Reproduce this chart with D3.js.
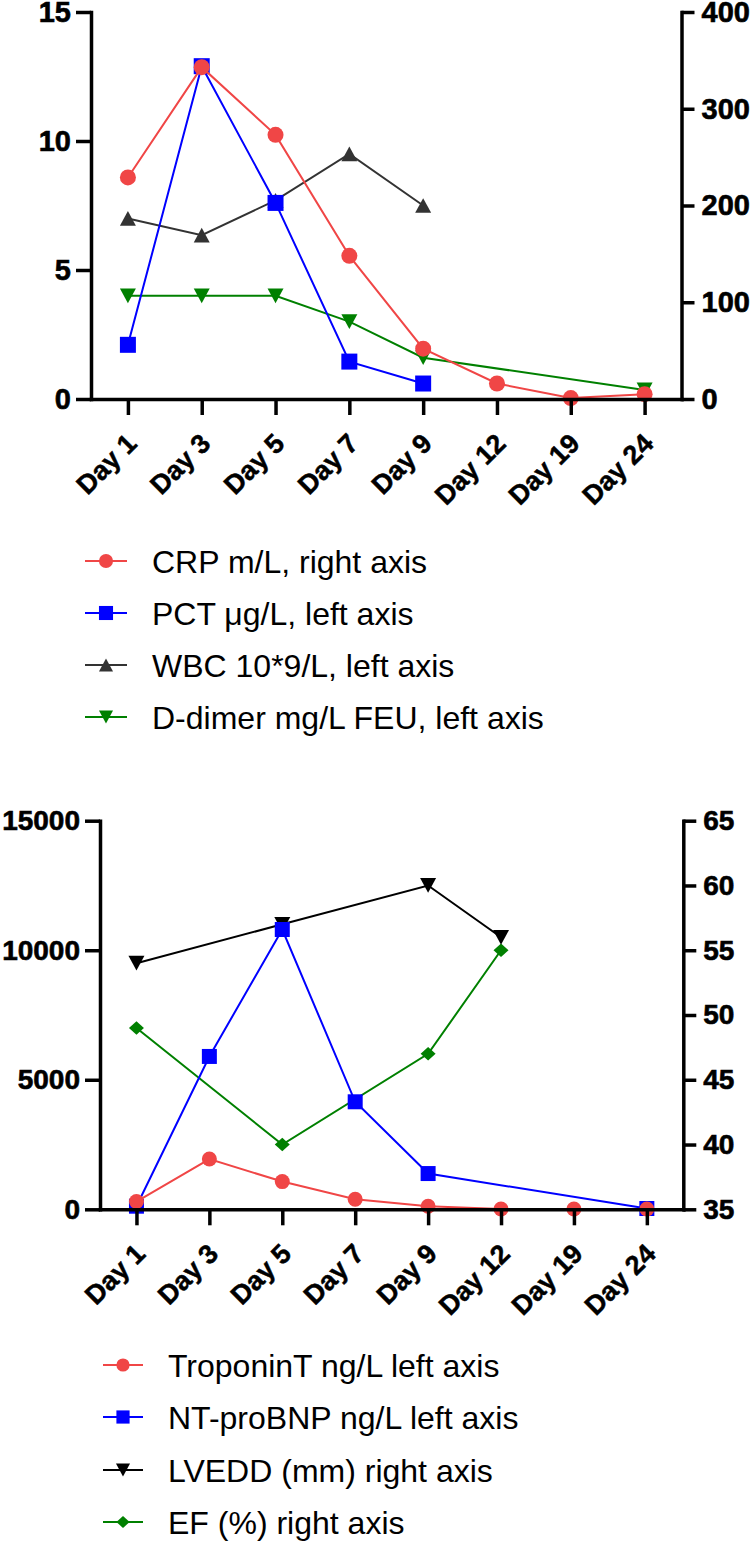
<!DOCTYPE html>
<html><head><meta charset="utf-8">
<script src="https://cdn.jsdelivr.net/npm/d3@7"></script>
<style>
body{margin:0;background:#fff}
svg{display:block}
text{font-family:"Liberation Sans",Arial,Helvetica,sans-serif;fill:#000}
</style>
</head><body>
<svg id="c" width="752" height="1542"></svg>
<script>
// ---------- data ----------
const days = ["Day 1","Day 3","Day 5","Day 7","Day 9","Day 12","Day 19","Day 24"];

// chart 1 (inflammation markers)
const crp    = [229, 343, 273, 148, 52, 16, 1, 5];           // right axis
const pct    = [2.1, 12.9, 7.6, 1.45, 0.6, null, null, null]; // left axis
const wbc    = [7.0, 6.35, 7.7, 9.5, 7.5, null, null, null];  // left axis
const ddimer = [4.0, 4.0, 4.0, 3.0, 1.6, null, null, 0.35];   // left axis
const leftTicks1  = [0, 5, 10, 15];
const rightTicks1 = [0, 100, 200, 300, 400];
const legend1 = ["CRP m/L, right axis", "PCT μg/L, left axis", "WBC 10*9/L, left axis", "D-dimer mg/L FEU, left axis"];

// chart 2 (cardiac markers)
const troponin = [300, 1940, 1070, 390, 120, 10, 10, 10];         // left axis
const ntprobnp = [120, 5900, 10800, 4150, 1380, null, null, 30];  // left axis
const lvedd    = [54, null, 57, null, 60, 56, null, null];        // right axis
const ef       = [49, null, 40, null, 47, 55, null, null];        // right axis
const leftTicks2  = [0, 5000, 10000, 15000];
const rightTicks2 = [35, 40, 45, 50, 55, 60, 65];
const legend2 = ["TroponinT ng/L left axis", "NT-proBNP ng/L left axis", "LVEDD (mm) right axis", "EF (%) right axis"];

// ---------- styles ----------
const RED = "#F04646", BLUE = "#0000FF", GREY = "#333333", GREEN = "#008000", BLACK = "#000000";

function marker(type, w) {
  const h = w * 0.92;
  switch (type) {
    case "circle": return d3.symbol(d3.symbolCircle, Math.PI * (w / 2) * (w / 2))();
    case "square": return d3.symbol(d3.symbolSquare, w * w)();
    case "triUp":  return `M0,${-h/2}L${w/2},${h/2}L${-w/2},${h/2}Z`;
    case "triDown":return `M0,${h/2}L${w/2},${-h/2}L${-w/2},${-h/2}Z`;
    case "diamond":return `M0,${-w*0.45}L${w/2},0L0,${w*0.45}L${-w/2},0Z`;
  }
}

const svg = d3.select("#c");

function drawChart(cfg) {
  const g = svg.append("g");
  const x = d3.scalePoint().domain(days).range([cfg.xL, cfg.xR]).padding(0.5);
  const yL = d3.scaleLinear().domain(cfg.leftDomain).range([cfg.y0, cfg.yTop]);
  const yR = d3.scaleLinear().domain(cfg.rightDomain).range([cfg.y0, cfg.yTop]);

  // series: drawn in reverse so first legend entry is on top
  cfg.series.slice().reverse().forEach(s => {
    const y = s.axis === "right" ? yR : yL;
    const pts = days.map((d, i) => ({d, v: s.values[i]})).filter(p => p.v !== null);
    g.append("path")
      .attr("d", d3.line().x(p => x(p.d)).y(p => y(p.v))(pts))
      .attr("fill", "none").attr("stroke", s.color).attr("stroke-width", 2);
    g.selectAll(null).data(pts).enter().append("path")
      .attr("d", marker(s.shape, s.size))
      .attr("transform", p => `translate(${x(p.d)},${y(p.v)})`)
      .attr("fill", s.color);
  });

  // axes
  const axL = g.append("g").attr("transform", `translate(${cfg.xL},0)`)
    .call(d3.axisLeft(yL).tickValues(cfg.leftTicks).tickSize(15).tickSizeOuter(0).tickPadding(5).tickFormat(d3.format("d")));
  const axR = g.append("g").attr("transform", `translate(${cfg.xR},0)`)
    .call(d3.axisRight(yR).tickValues(cfg.rightTicks).tickSize(13).tickSizeOuter(0).tickPadding(7).tickFormat(d3.format("d")));
  const axB = g.append("g").attr("transform", `translate(0,${cfg.y0})`)
    .call(d3.axisBottom(x).tickSize(16).tickSizeOuter(0));

  [axL, axR, axB].forEach(a => {
    a.attr("font-family", null).attr("font-size", null);
    a.select(".domain").attr("stroke", "#000").attr("stroke-width", 3.5).attr("stroke-linecap", "square");
    a.selectAll(".tick line").attr("stroke", "#000").attr("stroke-width", 3.5);
  });
  [axL, axR].forEach(a => a.selectAll("text")
    .style("font-size", cfg.tickFont + "px").style("font-weight", "bold")
    .attr("stroke", "#000").attr("stroke-width", 0.6));
  axB.selectAll("text")
    .attr("x", 0).attr("y", 0).attr("dy", 0)
    .attr("text-anchor", "end")
    .attr("transform", "translate(10,46) rotate(-45)")
    .style("font-size", "27px").style("font-weight", "bold")
    .attr("stroke", "#000").attr("stroke-width", 0.5);

  // legend
  const lg = g.append("g");
  cfg.series.forEach((s, i) => {
    const yy = cfg.legY[i];
    lg.append("line").attr("x1", cfg.legLine[0]).attr("x2", cfg.legLine[1])
      .attr("y1", yy).attr("y2", yy).attr("stroke", s.color).attr("stroke-width", 2);
    lg.append("path").attr("d", marker(s.shape, s.size * 0.88))
      .attr("transform", `translate(${(cfg.legLine[0] + cfg.legLine[1]) / 2},${yy})`)
      .attr("fill", s.color);
    lg.append("text").attr("x", cfg.legText).attr("y", yy).attr("dy", "0.36em")
      .style("font-size", cfg.legFont + "px").text(cfg.legend[i]);
  });
}

drawChart({
  xL: 91, xR: 681.5, y0: 399, yTop: 12,
  leftDomain: [0, 15], rightDomain: [0, 400],
  leftTicks: leftTicks1, rightTicks: rightTicks1, tickFont: 29,
  series: [
    {values: crp,    axis: "right", color: RED,   shape: "circle",  size: 16},
    {values: pct,    axis: "left",  color: BLUE,  shape: "square",  size: 16},
    {values: wbc,    axis: "left",  color: GREY,  shape: "triUp",   size: 16},
    {values: ddimer, axis: "left",  color: GREEN, shape: "triDown", size: 16}
  ],
  legend: legend1,
  legY: [561, 613, 665, 717], legLine: [85, 127], legText: 152, legFont: 32
});

drawChart({
  xL: 100, xR: 683.3, y0: 1209.3, yTop: 820.7,
  leftDomain: [0, 15000], rightDomain: [35, 65],
  leftTicks: leftTicks2, rightTicks: rightTicks2, tickFont: 28,
  series: [
    {values: troponin, axis: "left",  color: RED,   shape: "circle",  size: 15},
    {values: ntprobnp, axis: "left",  color: BLUE,  shape: "square",  size: 15},
    {values: lvedd,    axis: "right", color: BLACK, shape: "triDown", size: 16},
    {values: ef,       axis: "right", color: GREEN, shape: "diamond", size: 15}
  ],
  legend: legend2,
  legY: [1365, 1417, 1470, 1522], legLine: [103, 143], legText: 168, legFont: 32
});
</script>
</body></html>
